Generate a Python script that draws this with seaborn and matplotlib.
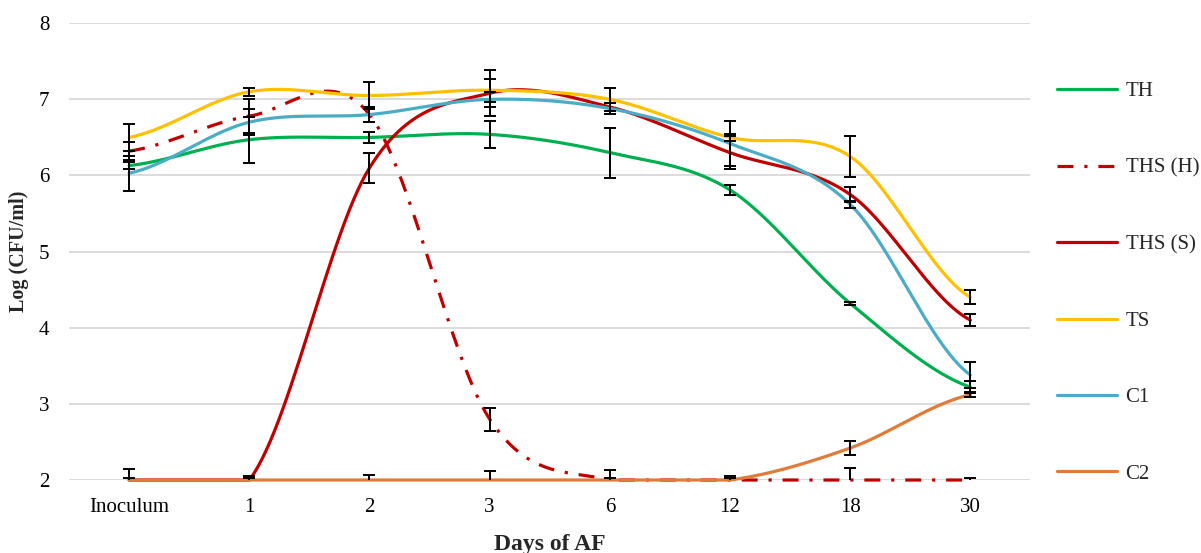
import numpy as np
import pandas as pd
import matplotlib
matplotlib.use('Agg')
import matplotlib.pyplot as plt
import seaborn as sns

# данные
days = ['Inoculum', '1', '2', '3', '6', '12', '18', '30']

th = [6.13, 6.47, 6.50, 6.54, 6.30, 5.81, 4.32, 3.22]
ths_h = [6.32, 6.78, 6.80, 2.80, 2.00, 2.00, 2.00, 2.00]
ths_s = [2.00, 2.00, 6.10, 7.08, 6.90, 6.30, 5.75, 4.10]
ts = [6.50, 7.10, 7.05, 7.12, 7.00, 6.50, 6.25, 4.40]
c1 = [6.03, 6.70, 6.80, 7.00, 6.88, 6.42, 5.62, 3.38]
c2 = [2.00, 2.00, 2.00, 2.00, 2.00, 2.00, 2.42, 3.12]

th_err = [0.05, 0.30, 0.07, 0.18, 0.33, 0.06, 0.02, 0.08]
ths_h_err = [0.12, 0.22, 0.10, 0.15, 0.13, 0.03, 0.16, 0.03]
ths_s_err = [0.15, 0.05, 0.20, 0.30, 0.05, 0.22, 0.10, 0.08]
ts_err = [0.18, 0.05, 0.18, 0.15, 0.15, 0.05, 0.27, 0.09]
c1_err = [0.23, 0.17, 0.10, 0.10, 0.07, 0.30, 0.05, 0.17]
c2_err = [0.03, 0.03, 0.07, 0.12, 0.02, 0.05, 0.09, 0.03]

names = ['TH', 'THS (H)', 'THS (S)', 'TS', 'C1', 'C2']
values = [th, ths_h, ths_s, ts, c1, c2]
errors = [th_err, ths_h_err, ths_s_err, ts_err, c1_err, c2_err]
colors = ['#00b050', '#c00000', '#c00000', '#ffc000', '#4bacc6', '#e07b39']


def smooth(y, n=30):
    # сглаживание как в Excel (кривые Безье через точки)
    y = np.asarray(y, float)
    x = np.arange(len(y), dtype=float)
    yp = np.concatenate([[y[0]], y, [y[-1]]])
    xs, ys = [], []
    for i in range(len(y) - 1):
        p0, p1 = y[i], y[i + 1]
        c1_ = p0 + (yp[i + 2] - yp[i]) / 6
        c2_ = p1 - (yp[i + 3] - yp[i + 1]) / 6
        t = np.linspace(0, 1, n)
        ys.append((1 - t) ** 3 * p0 + 3 * (1 - t) ** 2 * t * c1_ + 3 * (1 - t) * t ** 2 * c2_ + t ** 3 * p1)
        xs.append(x[i] + t)
    # ниже оси кривая не уходит
    return np.concatenate(xs), np.maximum(np.concatenate(ys), 2.0)


sns.set_theme(style='whitegrid')
plt.rcParams['font.family'] = ['Liberation Serif', 'DejaVu Serif']

fig = plt.figure(figsize=(12.01, 5.53), dpi=100)
ax = fig.add_axes([0.0575, 0.132, 0.8005, 0.826])

pos = np.arange(len(days))
for name, vals, err, col in zip(names, values, errors, colors):
    sx, sy = smooth(vals)
    df = pd.DataFrame({'x': sx, 'y': sy})
    if name == 'THS (H)':
        sns.lineplot(data=df, x='x', y='y', ax=ax, color=col, lw=2.3, label=name,
                     linestyle=(0, (5, 3.4, 1, 3.4)), sort=False, clip_on=False)
    else:
        sns.lineplot(data=df, x='x', y='y', ax=ax, color=col, lw=2.3, label=name,
                     sort=False, clip_on=False)
    ax.errorbar(pos, vals, yerr=err, fmt='none', ecolor='black', elinewidth=1.4,
                capsize=4, capthick=1.4, zorder=5)

ax.set_xlim(-0.5, 7.5)
ax.set_ylim(2, 8)
ax.set_xticks(pos)
ax.set_xticklabels(days)
ax.set_yticks(range(2, 9))
ax.tick_params(axis='both', labelsize=15, length=0, labelcolor='black')
ax.tick_params(axis='x', pad=13)
ax.tick_params(axis='y', pad=14)
ax.grid(axis='x', visible=False)
ax.grid(axis='y', color='#d9d9d9', lw=1.3)
for s in ax.spines.values():
    s.set_visible(False)
ax.set_facecolor('white')

ax.set_xlabel('Days of AF', fontsize=17, fontweight='bold', labelpad=12)
ax.set_ylabel('Log (CFU/ml)', fontsize=14.5, fontweight='bold', labelpad=7)

ax.legend(loc='upper left', bbox_to_anchor=(0.873, 0.867), bbox_transform=fig.transFigure,
          frameon=False, fontsize=15, handlelength=2.9, labelspacing=2.73,
          handletextpad=0.4, borderaxespad=0)

fig.savefig('out.png', dpi=100, facecolor='white')
